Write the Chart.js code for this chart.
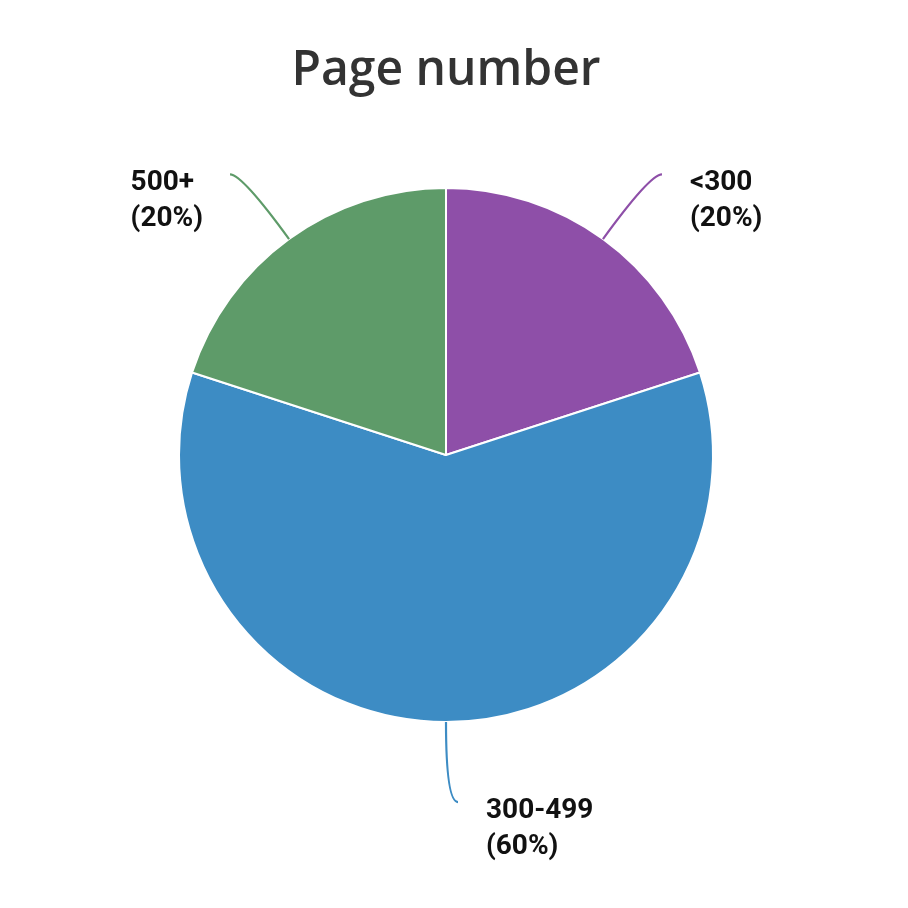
<!DOCTYPE html>
<html lang="en">
<head>
  <meta charset="UTF-8" />
  <title>Page number</title>
  <script src="https://cdn.jsdelivr.net/npm/chart.js"></script>
  <style>
    body {
      margin: 0;
      padding: 0;
      background: #ffffff;
    }
    .chart-box {
      width: 908px;
      height: 908px;
    }
  </style>
</head>
<body>
  <div class="chart-box">
    <canvas id="pageChart" width="908" height="908"></canvas>
  </div>

  <script>
    const categories = ["<300", "300-499", "500+"];
    const shares = [20, 60, 20];
    const sliceColors = ["#8e4fa8", "#3d8cc4", "#5e9b69"];

    // draws the curved leader lines and the two-line labels outside the pie
    const outsideLabels = {
      id: "outsideLabels",
      afterDraw(chart) {
        const ctx = chart.ctx;
        const meta = chart.getDatasetMeta(0);
        const total = shares.reduce((a, b) => a + b, 0);

        meta.data.forEach((arc, i) => {
          const p = arc.getProps(["x", "y", "startAngle", "endAngle", "outerRadius"], true);
          const mid = (p.startAngle + p.endAngle) / 2;
          const cos = Math.cos(mid), sin = Math.sin(mid);
          const dir = cos >= -1e-6 ? 1 : -1;

          const sx = p.x + cos * p.outerRadius;
          const sy = p.y + sin * p.outerRadius;
          const cx = p.x + cos * (p.outerRadius + 80);
          const cy = p.y + sin * (p.outerRadius + 80);
          const ex = cx + dir * 12;
          const ey = cy;

          ctx.save();
          ctx.strokeStyle = sliceColors[i];
          ctx.lineWidth = 2.2;
          ctx.beginPath();
          ctx.moveTo(sx, sy);
          ctx.quadraticCurveTo(cx, cy, ex, ey);
          ctx.stroke();

          const lines = [categories[i], "(" + Math.round(shares[i] / total * 100) + "%)"];
          ctx.font = "bold 28px Roboto";
          ctx.fillStyle = "#111111";
          ctx.textBaseline = "alphabetic";
          ctx.textAlign = "left";
          const w = Math.max(...lines.map(t => ctx.measureText(t).width));
          const tx = dir > 0 ? ex + 28 : ex - 27 - w;
          lines.forEach((t, k) => {
            ctx.fillText(t, tx, ey + 16 + k * 36);
          });
          ctx.restore();
        });
      }
    };

    new Chart(document.getElementById("pageChart").getContext("2d"), {
      type: "pie",
      data: {
        labels: categories,
        datasets: [{
          data: shares,
          backgroundColor: sliceColors,
          borderColor: "#ffffff",
          borderWidth: 2,
          radius: 267
        }]
      },
      options: {
        responsive: false,
        animation: false,
        layout: {
          padding: { top: 0, bottom: 98.5, left: 0, right: 16 }
        },
        plugins: {
          legend: { display: false },
          tooltip: { enabled: false },
          title: {
            display: true,
            text: "Page number",
            color: "#333333",
            font: { family: "'Open Sans'", size: 48, weight: "600", lineHeight: 1.2 },
            padding: { top: 43, bottom: 0 }
          }
        }
      },
      plugins: [outsideLabels]
    });
  </script>
</body>
</html>
